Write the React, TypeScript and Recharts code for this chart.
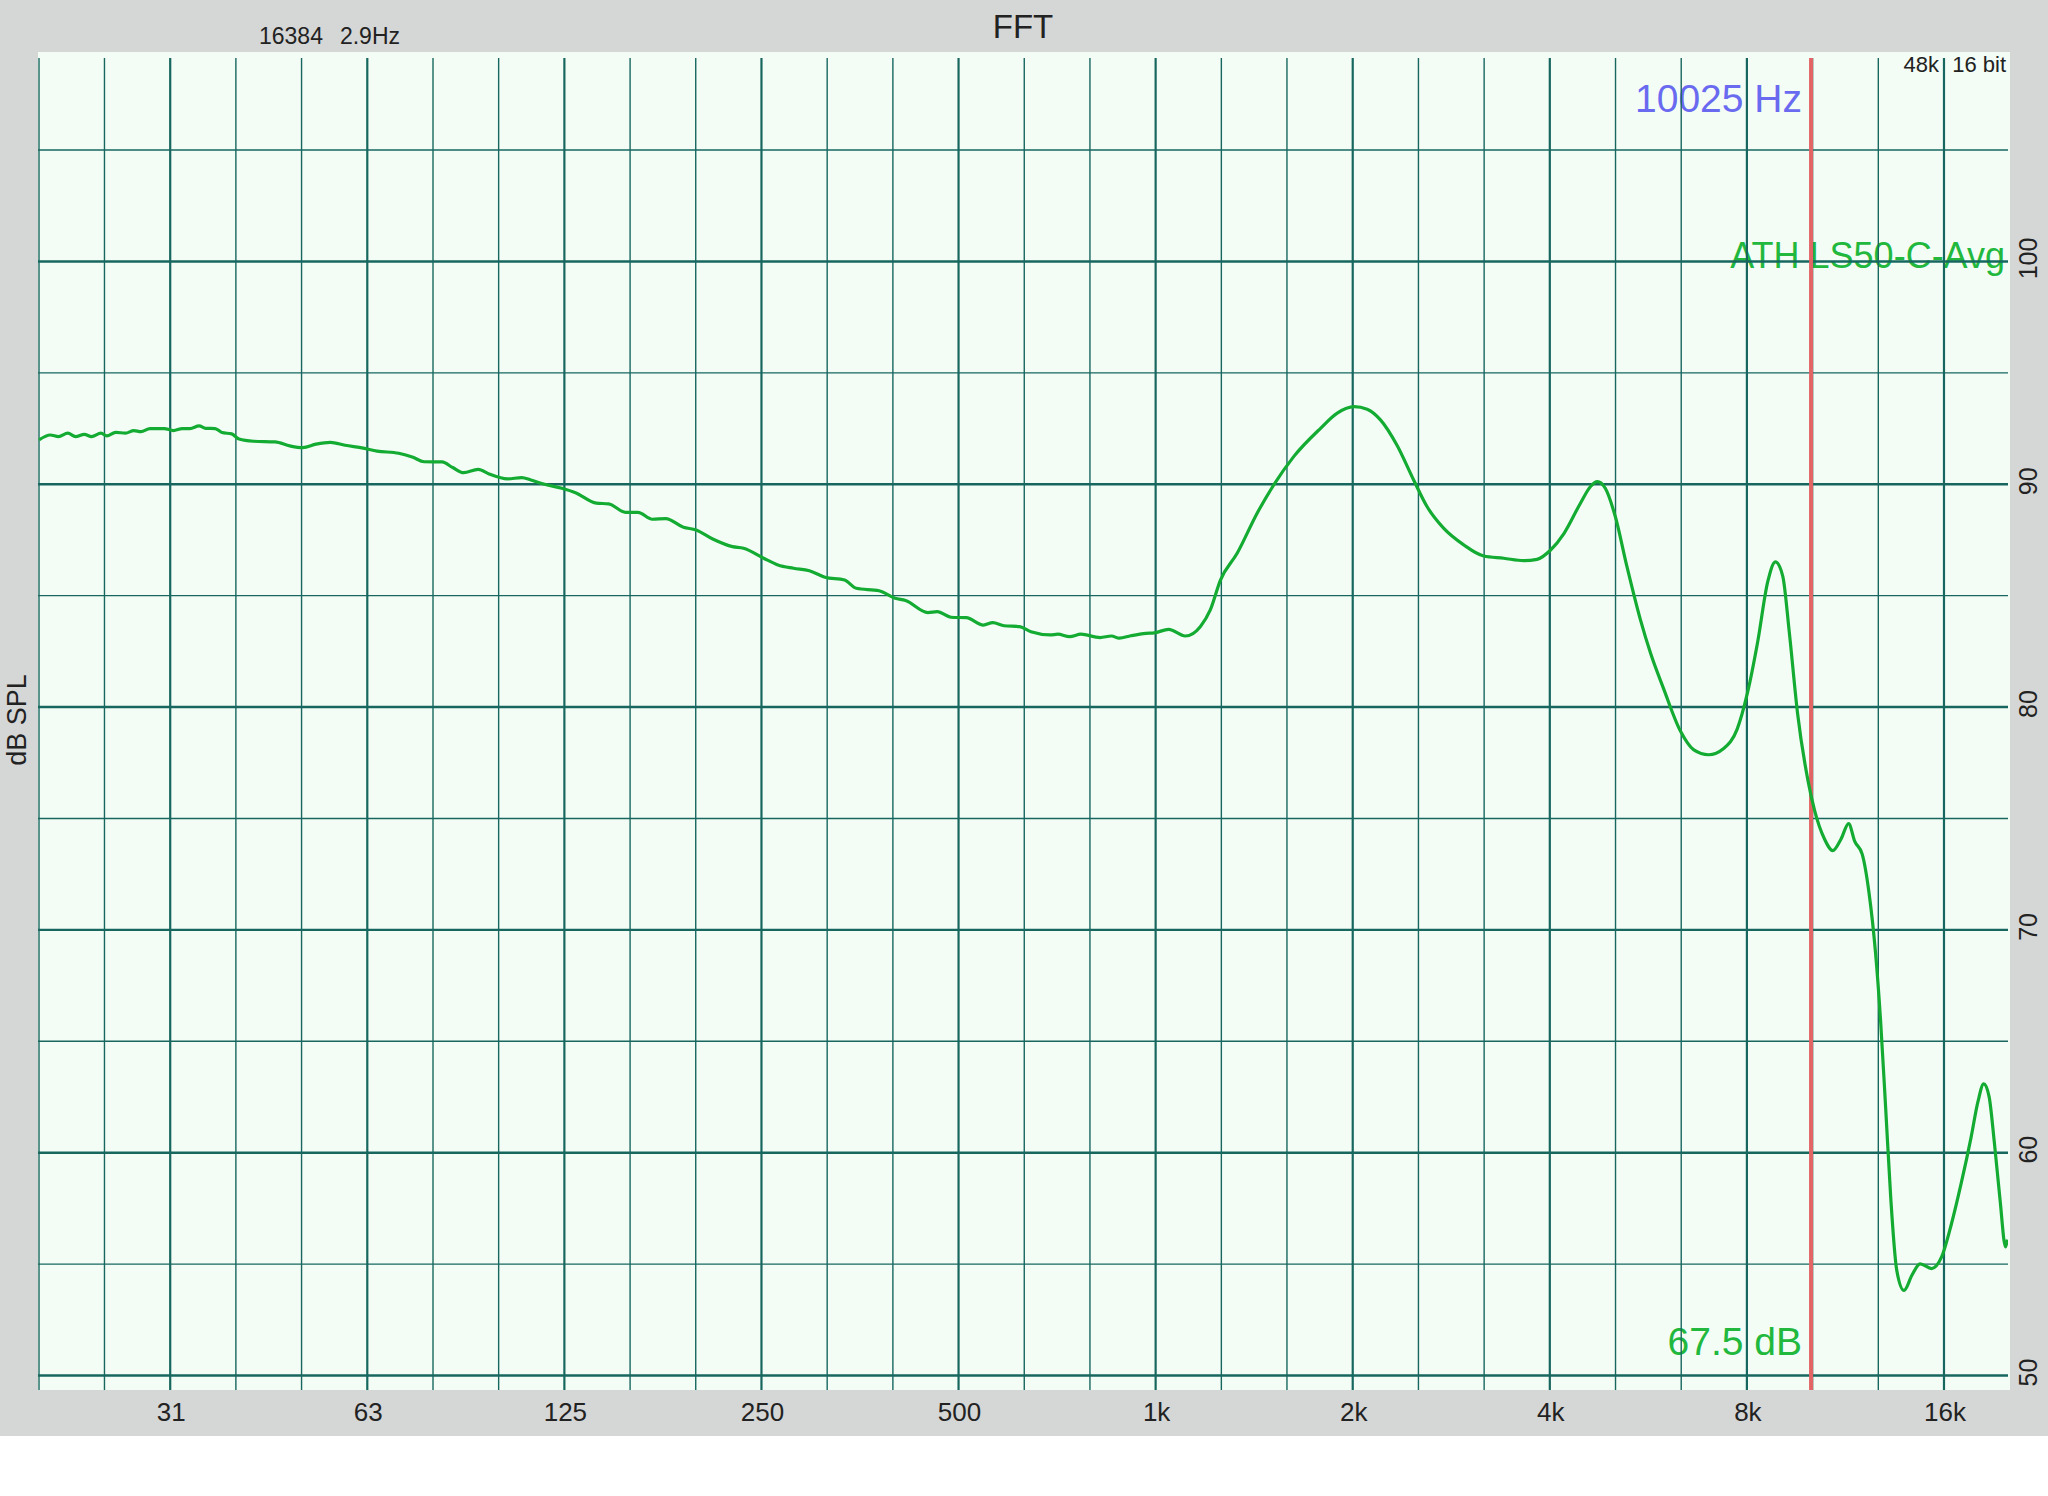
import React from 'react';
import { LineChart, Line, XAxis, YAxis, ReferenceLine } from 'recharts';

// ---- data ----
const freqHz = [
  19.7, 20.5, 21.1, 21.8, 22.4, 23.1, 23.7, 24.5, 25.0, 25.8, 26.7, 27.5, 28.2, 29.1, 30.6, 31.6, 32.6, 33.5,
  34.6, 35.4, 36.6, 37.5, 38.8, 39.8, 41.9, 45.2, 47.6, 49.8, 52.2, 54.9, 57.8, 61.6, 64.7, 69.8, 73.4, 76.3,
  81.3, 84.4, 87.7, 92.3, 95.9, 102.3, 107.6, 111.1, 116.2, 123.9, 130, 139.9, 146, 155, 161.9, 170.3, 178.5,
  190, 198.6, 211, 225.8, 234.7, 252, 264.9, 279.8, 295.9, 312.6, 334.9, 349, 378, 400, 415, 448.8, 463.9, 487,
  513.8, 545.7, 564, 587, 620, 645, 690, 709, 739, 769, 822.5, 856, 880, 916, 966.5, 995, 1047, 1110, 1170,
  1212, 1256, 1332, 1429, 1515, 1625, 1786, 1894, 2010, 2104, 2205, 2336, 2478, 2597, 2753, 2955, 3170, 3402,
  3648, 3825, 4011, 4206, 4455, 4616, 4727, 4862, 5036, 5247, 5502, 5703, 5966, 6338, 6630, 6992, 7373, 7731,
  8012, 8306, 8612, 8843, 9075, 9286, 9563, 9914, 10152, 10510, 10820, 11140, 11440, 11690, 12000, 12290,
  12580, 12800, 13030, 13270, 13550, 13900, 14300, 14710, 15320, 15860, 16420, 17000, 17600, 18030, 18400,
  18750, 19100, 19480, 19870, 20000,
];
const splDb = [
  91.99, 92.21, 92.14, 92.29, 92.14, 92.24, 92.14, 92.29, 92.17, 92.33, 92.29, 92.41, 92.36, 92.5, 92.5, 92.41, 92.5, 92.5,
  92.62, 92.51, 92.5, 92.32, 92.26, 92.03, 91.93, 91.9, 91.72, 91.64, 91.8, 91.88, 91.75, 91.62, 91.49, 91.39, 91.21, 91.01,
  91.0, 90.75, 90.52, 90.67, 90.46, 90.24, 90.3, 90.19, 90.01, 89.82, 89.62, 89.15, 89.12, 88.74, 88.74, 88.43, 88.46,
  88.07, 87.95, 87.53, 87.2, 87.13, 86.68, 86.38, 86.23, 86.12, 85.83, 85.7, 85.33, 85.22, 84.88, 84.78, 84.24, 84.28, 84.03,
  84.01, 83.68, 83.79, 83.65, 83.61, 83.38, 83.24, 83.27, 83.16, 83.27, 83.12, 83.19, 83.09, 83.2, 83.31, 83.33, 83.49, 83.19, 83.61,
  84.36, 85.7, 86.9, 88.7, 89.97, 91.24, 92.51, 93.19, 93.48, 93.37, 92.89, 91.76, 90.19, 89.0, 88.03, 87.28, 86.78, 86.68,
  86.57, 86.63, 87.05, 87.8, 89.15, 89.9, 90.12, 89.82, 88.55, 86.3, 83.91, 82.4, 80.84, 78.9, 78.09, 77.86, 78.14, 79.01,
  80.61, 82.9, 85.65, 86.52, 85.88, 83.36, 79.69, 76.72, 75.35, 74.08, 73.56, 74.08, 74.77, 73.97, 73.4, 71.68,
  68.93, 65.96, 62.06, 57.94, 54.73, 53.82, 54.51, 55.01, 54.8, 55.31, 56.79, 58.63, 60.69, 62.29, 63.09,
  62.52, 60.46, 57.94, 55.77, 56.1,
];

// grid & tick values
const gridFreqs = [
  19.7, 24.8, 31.25, 39.37, 49.6, 62.5, 78.75, 99.2, 125, 157.5, 198.4, 250, 315, 396.9, 500, 630, 793.7,
  1000, 1260, 1587, 2000, 2520, 3175, 4000, 5040, 6350, 8000, 10079, 12700, 16000,
];
const octaveFreqs = [31.25, 62.5, 125, 250, 500, 1000, 2000, 4000, 8000, 16000];
const octaveLabels = ['31', '63', '125', '250', '500', '1k', '2k', '4k', '8k', '16k'];
const dbMajor = [50, 60, 70, 80, 90, 100];
const dbMinor = [55, 65, 75, 85, 95, 105];
const cursorHz = 10025;

const data = freqHz.map((f, i) => ({ f, db: splDb[i] }));

const W = 2048;
const H = 1436;
const FONT = '"Liberation Sans", Arial, Helvetica, sans-serif';
const GRID = '#17675f';
const GREEN_LINE = '#14ab32';
const GREEN_TEXT = '#22b83e';
const TEXT = '#222222';

const XTick = (props: any) => {
  const { x, payload } = props;
  const i = octaveFreqs.findIndex((v) => Math.abs(v - payload.value) < 1e-6);
  return (
    <text x={x + 1} y={1421} textAnchor="middle" fontSize={26} fontFamily={FONT} fill={TEXT}>
      {i >= 0 ? octaveLabels[i] : ''}
    </text>
  );
};

const YTick = (props: any) => {
  const { y, payload } = props;
  const bx = 2037;
  const cy = y - 3;
  return (
    <text
      x={bx}
      y={cy}
      transform={`rotate(-90, ${bx}, ${cy})`}
      textAnchor="middle"
      fontSize={25}
      fontFamily={FONT}
      fill={TEXT}
    >
      {payload.value}
    </text>
  );
};

export default function App() {
  return (
    <div style={{ position: 'absolute', left: 0, top: 0, width: W, height: H, background: '#d5d6d6' }}>
      <div style={{ position: 'absolute', left: 38, top: 52, width: 1972, height: 1338, background: '#f3fdf6' }} />
      <svg width={W} height={H} style={{ position: 'absolute', left: 0, top: 0 }}>
        <g fontFamily={FONT}>
          <text x={1023} y={38} textAnchor="middle" fontSize={33} fill={TEXT}>FFT</text>
          <text x={259} y={44} textAnchor="start" fontSize={23} fill={TEXT}>16384</text>
          <text x={400} y={44} textAnchor="end" fontSize={23} fill={TEXT}>2.9Hz</text>
          <text x={1939} y={71.5} textAnchor="end" fontSize={22} fill={TEXT}>48k</text>
          <text x={2006} y={71.5} textAnchor="end" fontSize={22} fill={TEXT}>16 bit</text>
          <text x={1802} y={112} textAnchor="end" fontSize={39} fill="#6a6af0">10025 Hz</text>
          <text x={2005} y={268} textAnchor="end" fontSize={36} fill={GREEN_TEXT}>ATH LS50-C-Avg</text>
          <text x={1802} y={1355} textAnchor="end" fontSize={39} fill={GREEN_TEXT}>67.5 dB</text>
          <text x={26} y={720} transform="rotate(-90, 26, 720)" textAnchor="middle" fontSize={27} fill={TEXT}>dB SPL</text>
        </g>
      </svg>
      <div style={{ position: 'absolute', left: 0, top: 0 }}>
        <LineChart width={W} height={H} data={data} margin={{ top: 58, left: 38, right: 0, bottom: 0 }}>
          <XAxis
            dataKey="f"
            type="number"
            scale="log"
            domain={[19.63, 20040]}
            allowDataOverflow
            ticks={octaveFreqs}
            interval={0}
            tick={<XTick />}
            axisLine={false}
            tickLine={false}
            height={46}
          />
          <YAxis
            orientation="right"
            type="number"
            domain={[49.35, 109.13]}
            allowDataOverflow
            ticks={dbMajor}
            interval={0}
            tick={<YTick />}
            axisLine={false}
            tickLine={false}
            width={40}
          />
          {gridFreqs.map((f) => (
            <ReferenceLine
              key={'vx' + f}
              x={f}
              stroke={GRID}
              strokeWidth={octaveFreqs.includes(f) ? 2.2 : 1.4}
            />
          ))}
          {dbMinor.map((d) => (
            <ReferenceLine key={'hm' + d} y={d} stroke={GRID} strokeWidth={1.4} />
          ))}
          {dbMajor.map((d) => (
            <ReferenceLine key={'hM' + d} y={d} stroke={GRID} strokeWidth={2.4} />
          ))}
          <ReferenceLine x={cursorHz} stroke="#e26464" strokeWidth={4} />
          <Line
            dataKey="db"
            type="monotone"
            stroke={GREEN_LINE}
            strokeWidth={3.2}
            dot={false}
            activeDot={false}
            isAnimationActive={false}
          />
        </LineChart>
      </div>
    </div>
  );
}
